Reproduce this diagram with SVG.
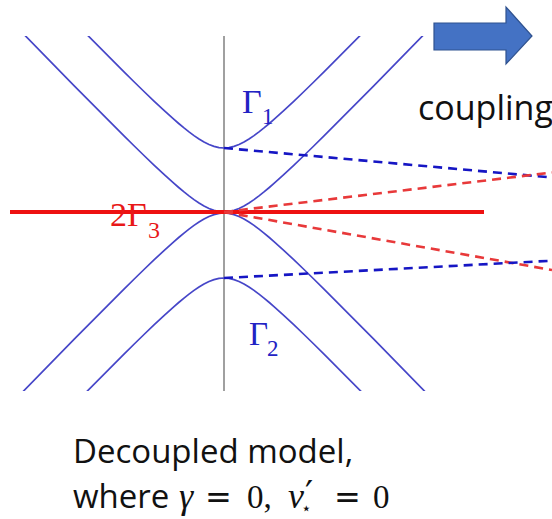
<svg xmlns="http://www.w3.org/2000/svg" xmlns:xlink="http://www.w3.org/1999/xlink" width="552" height="519" viewBox="0 0 552 519">
<style>
.band{fill:none;stroke:#4646C8;stroke-width:1.7;stroke-linejoin:round}
.dash{fill:none;stroke-width:2.6;stroke-dasharray:9 6}
.db{stroke:#1616C4}
.dr{stroke:#E8393A}
.sans{font-family:"Open Sans","Noto Sans","Liberation Sans",sans-serif;fill:#111}
.math{font-family:"Liberation Serif","DejaVu Serif",serif}
.lblue{fill:#2222C4}
.lred{fill:#E81818}
</style>
<defs>
<clipPath id="clipY"><rect x="0" y="36" width="552" height="355"/></clipPath>
<path id="branch" d="M-205,-182.7 L-150,-126.45 L-100,-76.11 L-90,-66.25 L-80,-56.51 L-70,-46.93 L-60,-37.59 L-50,-28.59 L-45,-24.26 L-40,-20.1 L-35,-16.13 L-30,-12.41 L-25,-9.01 L-20,-6.01 L-15,-3.5 L-10,-1.6 L-5,-0.41 L0,0 L5,-0.41 L10,-1.6 L15,-3.5 L20,-6.01 L25,-9.01 L30,-12.41 L35,-16.13 L40,-20.1 L45,-24.26 L50,-28.59 L60,-37.59 L70,-46.93 L80,-56.51 L90,-66.25 L100,-76.11 L150,-126.45 L205,-182.7"/>
</defs>
<rect width="552" height="519" fill="#fff"/>
<g id="axis"><line x1="224" y1="36" x2="224" y2="391" stroke="#A0A0A0" stroke-width="2"/></g>
<g id="bands" clip-path="url(#clipY)">
<g id="gamma1-band"><use xlink:href="#branch" href="#branch" class="band" transform="translate(224,148)"/></g>
<g id="outer-top"><use xlink:href="#branch" href="#branch" class="band" transform="translate(224,212)"/></g>
<g id="outer-bottom"><use xlink:href="#branch" href="#branch" class="band" transform="translate(224,213) scale(1,-1)"/></g>
<g id="gamma2-band"><use xlink:href="#branch" href="#branch" class="band" transform="translate(224,278) scale(1,-1)"/></g>
</g>
<g id="gamma3-line"><line x1="10" y1="212" x2="484" y2="212" stroke="#EE1111" stroke-width="4"/></g>
<g id="connectors">
<line class="dash db" x1="224" y1="148" x2="552" y2="177.5"/>
<line class="dash dr" x1="224" y1="212" x2="552" y2="172.5"/>
<line class="dash dr" x1="224" y1="212" x2="552" y2="270"/>
<line class="dash db" x1="224" y1="278" x2="552" y2="260.7"/>
</g>
<g id="coupling-arrow">
<polygon points="434,23 506,23 506,7 532,36 506,64 506,50 434,50" fill="#4472C4" stroke="#2F528F" stroke-width="1.2"/>
<text class="sans" x="418" y="120" font-size="34">coupling</text>
</g>
<g id="label-gamma1" class="math lblue">
<text x="242" y="113" font-size="34">Γ</text>
<text x="262" y="124" font-size="23">1</text>
</g>
<g id="label-gamma2" class="math lblue">
<text x="249" y="345" font-size="33">Γ</text>
<text x="267" y="356" font-size="23">2</text>
</g>
<g id="label-gamma3" class="math lred">
<text x="110" y="226" font-size="34">2Γ</text>
<text x="148" y="238" font-size="24">3</text>
</g>
<g id="caption">
<text class="sans" x="73" y="463" font-size="33">Decoupled model,</text>
<text class="sans" x="73" y="508" font-size="33">where</text>
<g class="math" fill="#111">
<text x="179" y="508" font-size="36" font-style="italic">γ</text>
<text x="205" y="508" font-size="32" font-family="DejaVu Sans">=</text>
<text x="247" y="508" font-size="33">0,</text>
<text x="288" y="508" font-size="36" font-style="italic">v</text>
<text x="305" y="506" font-size="36" font-family="DejaVu Serif">′</text>
<text x="301" y="514" font-size="17" font-family="DejaVu Sans">⋆</text>
<text x="334" y="508" font-size="32" font-family="DejaVu Sans">=</text>
<text x="373" y="508" font-size="33">0</text>
</g>
</g>
</svg>
